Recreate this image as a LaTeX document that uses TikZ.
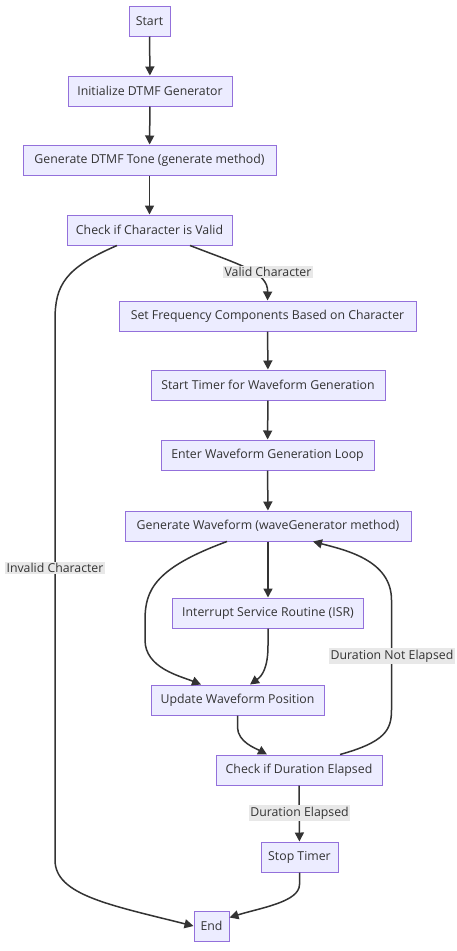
\documentclass[tikz,border=0pt]{standalone}
\usepackage{fontspec}
\setmainfont{Open Sans}
\usetikzlibrary{arrows.meta}
\definecolor{boxfill}{HTML}{ECECFF}
\definecolor{boxborder}{HTML}{9370DB}
\definecolor{linecol}{HTML}{333333}
\definecolor{lblfill}{HTML}{E8E8E8}
\definecolor{txtcol}{HTML}{333333}
\begin{document}
\begin{tikzpicture}[x=1pt,y=-1pt,
  box/.style={draw=boxborder, fill=boxfill, line width=1pt, text=txtcol, minimum height=30pt, inner sep=0pt, font=\fontsize{12.3}{14}\selectfont},
  lbl/.style={fill=lblfill, text=txtcol, inner sep=1.5pt, font=\fontsize{12.3}{14}\selectfont},
  edge/.style={draw=linecol, line width=1.5pt, -{Triangle[length=9pt,width=9pt]}}]
\useasboundingbox[fill=white] (0,0) rectangle (457,951);
\node[box, minimum width=41pt]  (start) at (149.5,21) {Start};
\node[box, minimum width=164pt] (init)  at (150,91) {Initialize DTMF Generator};
\node[box, minimum width=253pt] (tone)  at (149.5,160) {Generate DTMF Tone (generate method)};
\node[box, minimum width=165pt] (chk)   at (149.5,230) {Check if Character is Valid};
\node[box, minimum width=297pt] (setf)  at (267.5,316) {Set Frequency Components Based on Character};
\node[box, minimum width=234pt] (timer) at (268,385) {Start Timer for Waveform Generation};
\node[box, minimum width=213pt] (loop)  at (267.5,455) {Enter Waveform Generation Loop};
\node[box, minimum width=286pt] (wave)  at (268,526) {Generate Waveform (waveGenerator method)};
\node[box, minimum width=191pt] (isr)   at (268,613) {Interrupt Service Routine (ISR)};
\node[box, minimum width=173pt] (upd)   at (237.5,700) {Update Waveform Position};
\node[box, minimum width=166pt] (dur)   at (299,770) {Check if Duration Elapsed};
\node[box, minimum width=77pt]  (stop)  at (299.5,857) {Stop Timer};
\node[box, minimum width=35pt]  (end)   at (211.5,926) {End};

\draw[edge] (start) -- (init);
\draw[edge] (init) -- (tone);
\draw[edge] (tone) -- (chk);
\draw[edge] ([xshift=40.5pt]chk.south) .. controls (240,265) and (268,272) .. (setf.north);
\draw[edge] ([xshift=-32.5pt]chk.south) .. controls (65,268) and (55,285) .. (55,320) -- (55,860) .. controls (55,895) and (110,905) .. (end.west);
\draw[edge] (setf) -- (timer);
\draw[edge] (timer) -- (loop);
\draw[edge] (loop) -- (wave);
\draw[edge] (wave) -- (isr);
\draw[edge] ([xshift=-41pt]wave.south) .. controls (155,568) and (145,590) .. (145,620) -- (145,640) .. controls (145,668) and (180,676) .. ([xshift=-36.5pt]upd.north);
\draw[edge] (isr.south) -- ([yshift=-17pt]isr.south) .. controls (268,668) and (262,676) .. ([xshift=12.5pt]upd.north);
\draw[edge] (upd.south) -- ([yshift=-12pt]upd.south) .. controls (238,742) and (255,748) .. ([xshift=-32pt]dur.north);
\draw[edge] ([xshift=41pt]dur.north) .. controls (385,742) and (391.5,730) .. (391.5,710) -- (391.5,600) .. controls (391.5,560) and (345,550) .. ([xshift=45pt]wave.south);
\draw[edge] (dur) -- (stop);
\draw[edge] (stop.south) -- ([yshift=-12pt]stop.south) .. controls (299.5,902) and (260,908) .. ([yshift=-7pt]end.north east);

\node[lbl] (lvalid) at (268,272) {Valid Character};
\node[lbl] (linv) at (55,568) {Invalid Character};
\node[lbl] (lnot) at (392,656) {Duration Not Elapsed};
\node[lbl] (lel) at (299.5,813) {Duration Elapsed};
\end{tikzpicture}
\end{document}
